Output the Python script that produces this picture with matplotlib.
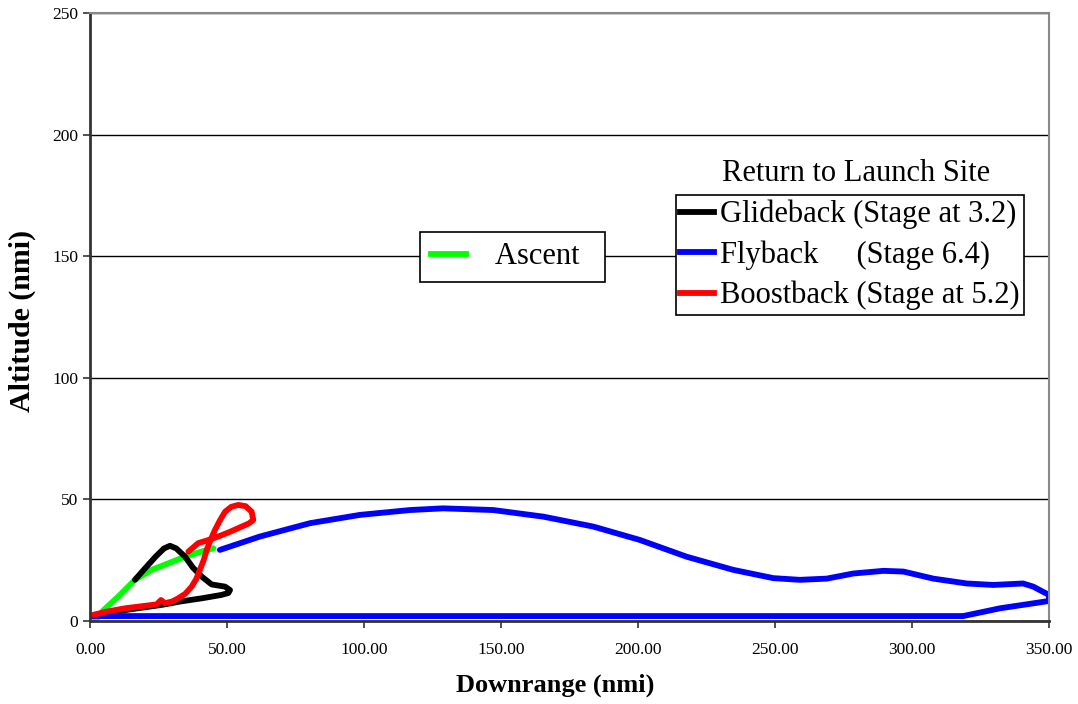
import matplotlib
matplotlib.use("Agg")
import matplotlib.pyplot as plt
from matplotlib.lines import Line2D

plt.rcParams['font.family'] = ['Liberation Serif', 'DejaVu Serif']

# trajectories, downrange (nmi) vs altitude (nmi)
ascent_x = [1.0, 5.0, 10.3, 16.4, 22.5, 28.6, 34.7, 40.0, 45.0]
ascent_y = [-1.0, 4.5, 10.0, 16.9, 21.0, 23.7, 26.4, 28.3, 29.9]

glide_x = [16.4, 20.0, 24.0, 27.0, 29.2, 31.5, 34.7, 37.5, 40.8, 44.4, 49.3,
           51.1, 50.5, 48.0, 40.8, 33.0, 26.2, 18.0, 10.0, 2.0]
glide_y = [16.9, 21.5, 26.5, 29.8, 30.9, 29.8, 26.4, 22.0, 18.2, 15.0, 14.1,
           12.7, 11.5, 10.7, 9.3, 8.0, 6.6, 5.3, 4.0, 2.5]

fly_x = [47.4, 62.0, 80.3, 98.5, 116.8, 128.9, 147.2, 165.4, 183.7, 200.7,
         217.8, 234.8, 249.4, 259.1, 268.9, 278.6, 289.6, 296.9, 307.8, 320.0,
         329.7, 340.6, 344.3, 350.0, 350.0, 332.2, 318.7, 200.0, 100.0, 0.0]
fly_y = [29.2, 34.7, 40.2, 43.6, 45.6, 46.3, 45.6, 42.9, 38.8, 33.3,
         26.4, 21.0, 17.6, 16.9, 17.4, 19.5, 20.6, 20.3, 17.4, 15.4,
         14.8, 15.4, 14.1, 10.7, 8.2, 5.2, 2.0, 2.0, 2.0, 2.0]

boost_x = [1.2, 6.0, 12.8, 18.5, 24.3, 25.9, 27.4, 30.0, 32.2, 34.8, 37.1,
           38.8, 40.1, 41.5, 42.6, 44.0, 45.6, 47.5, 49.3, 51.5, 54.1, 56.8,
           59.0, 59.6, 58.0, 55.4, 51.0, 46.8, 43.0, 39.5, 35.9]
boost_y = [2.5, 3.8, 5.2, 6.0, 6.8, 8.6, 7.3, 8.0, 9.3, 11.2, 14.1,
           17.3, 21.0, 25.0, 29.2, 33.3, 37.4, 41.5, 44.9, 46.9, 47.7, 47.2,
           44.9, 41.5, 40.1, 38.8, 36.6, 34.7, 33.2, 32.0, 28.5]

x_ticks = [0, 50, 100, 150, 200, 250, 300, 350]
y_ticks = [0, 50, 100, 150, 200, 250]

fig = plt.figure(figsize=(10.78, 7.04), dpi=100)
ax = fig.add_axes([0.0835, 0.118, 0.8895, 0.8635])

lw = 4.2
style = dict(lw=lw, solid_capstyle='round', solid_joinstyle='round')
ax.plot(ascent_x, ascent_y, color='#00ff00', **style)
ax.plot(glide_x, glide_y, color='black', **style)
ax.plot(fly_x, fly_y, color='#0000ff', **style)
ax.plot(boost_x, boost_y, color='#ff0000', **style)

ax.set_xlim(0, 350)
ax.set_ylim(0, 250)
ax.set_xticks(x_ticks)
ax.set_xticklabels([f"{v:.2f}" for v in x_ticks])
ax.set_yticks(y_ticks)
ax.tick_params(axis='both', direction='out', length=5, width=1.2, labelsize=12.5, color='#333333')
ax.tick_params(axis='x', pad=10)
ax.yaxis.grid(True, color='black', lw=1)
ax.set_axisbelow(True)

for side in ('left', 'bottom'):
    ax.spines[side].set_color('#333333')
    ax.spines[side].set_linewidth(2)
for side in ('top', 'right'):
    ax.spines[side].set_color('#888888')
    ax.spines[side].set_linewidth(1.5)

ax.set_xlabel('Downrange (nmi)', fontsize=19, fontweight='bold')
ax.set_ylabel('Altitude (nmi)', fontsize=21.5, fontweight='bold')
ax.xaxis.set_label_coords(0.485, -0.087)
ax.yaxis.set_label_coords(-0.056, 0.493)

# two separate legend boxes
h_ascent = [Line2D([], [], color='#00ff00', lw=lw)]
leg1 = ax.legend(h_ascent, ['Ascent  '], loc='center', bbox_to_anchor=(0.4754, 0.635),
                 bbox_transform=fig.transFigure, fontsize=22, frameon=True,
                 fancybox=False, edgecolor='black', framealpha=1,
                 handlelength=1.15, handletextpad=0.95, borderpad=0.35,
                 borderaxespad=0)
leg1.get_frame().set_linewidth(1.2)
ax.add_artist(leg1)

h_rtls = [Line2D([], [], color='black', lw=lw),
          Line2D([], [], color='#0000ff', lw=lw),
          Line2D([], [], color='#ff0000', lw=lw)]
labels_rtls = ['Glideback (Stage at 3.2)', 'Flyback     (Stage 6.4)',
               'Boostback (Stage at 5.2)']
leg2 = ax.legend(h_rtls, labels_rtls, loc='center', bbox_to_anchor=(0.7885, 0.6378),
                 bbox_transform=fig.transFigure, fontsize=22, frameon=True,
                 fancybox=False, edgecolor='black', framealpha=1,
                 handlelength=1.1, handletextpad=0.2, borderpad=0.15,
                 labelspacing=0.36, borderaxespad=0)
leg2.get_frame().set_linewidth(1.2)

fig.text(0.794, 0.754, 'Return to Launch Site', fontsize=22, ha='center', va='center')

fig.savefig('out.png', dpi=100)
